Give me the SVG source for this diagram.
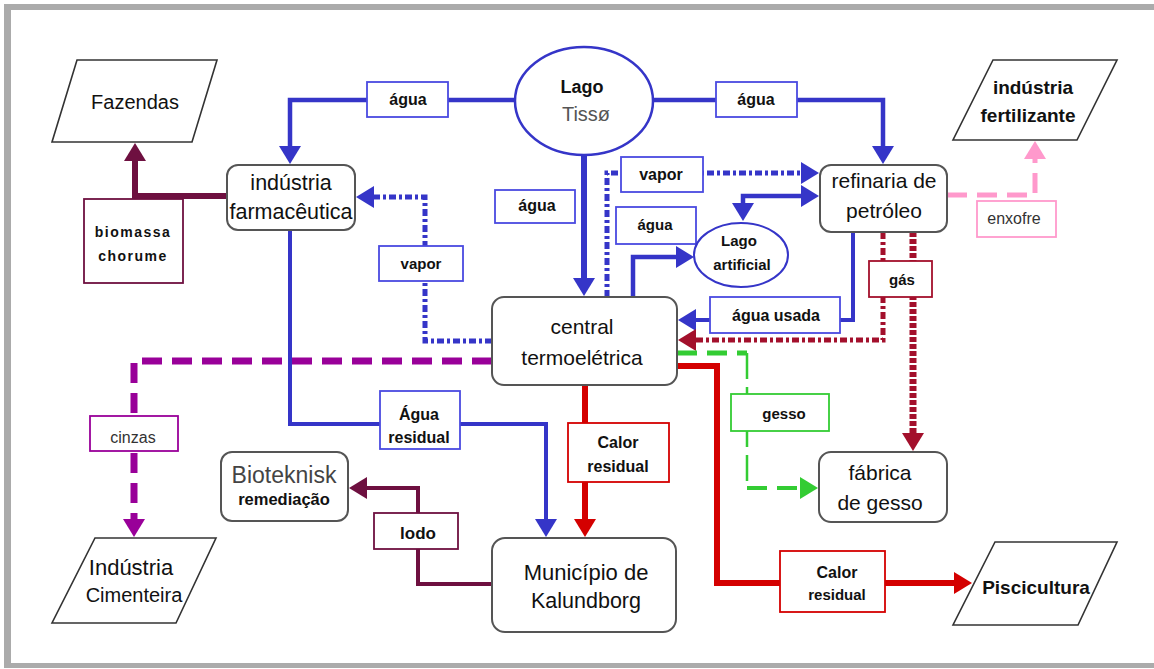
<svg xmlns="http://www.w3.org/2000/svg" width="1154" height="669" viewBox="0 0 1154 669">
<style>
text{font-family:"Liberation Sans",Arial,sans-serif;fill:#111;text-anchor:middle}
.node{fill:#fff;stroke:#555;stroke-width:2}
.para{fill:#fff;stroke:#333;stroke-width:1.6}
.lbl{fill:#fff;stroke-width:1.8}
.b{font-weight:bold}
.ln{fill:none;stroke-linejoin:miter}
.blue{stroke:#3535c8}
.lb{stroke:#4a4ae0}
.mar{stroke:#6e1040}
.dred{stroke:#a3102c}
.red{stroke:#d40000}
.grn{stroke:#33cc33}
.pnk{stroke:#ff99cc}
.pur{stroke:#990099}
.dot{stroke-dasharray:7 3 3 3}
.dash{stroke-dasharray:20 10}
</style>
<defs>
<marker id="aBlue" viewBox="0 0 18 22" refX="1" refY="11" markerWidth="18" markerHeight="22" markerUnits="userSpaceOnUse" orient="auto-start-reverse"><path d="M0,0 L18,11 L0,22 Z" fill="#3535c8"/></marker>
<marker id="aMar" viewBox="0 0 18 22" refX="1" refY="11" markerWidth="18" markerHeight="22" markerUnits="userSpaceOnUse" orient="auto"><path d="M0,0 L18,11 L0,22 Z" fill="#6e1040"/></marker>
<marker id="aDred" viewBox="0 0 18 22" refX="1" refY="11" markerWidth="18" markerHeight="22" markerUnits="userSpaceOnUse" orient="auto"><path d="M0,0 L18,11 L0,22 Z" fill="#a3102c"/></marker>
<marker id="aRed" viewBox="0 0 18 22" refX="1" refY="11" markerWidth="18" markerHeight="22" markerUnits="userSpaceOnUse" orient="auto"><path d="M0,0 L18,11 L0,22 Z" fill="#d40000"/></marker>
<marker id="aGrn" viewBox="0 0 18 22" refX="1" refY="11" markerWidth="18" markerHeight="22" markerUnits="userSpaceOnUse" orient="auto"><path d="M0,0 L18,11 L0,22 Z" fill="#33cc33"/></marker>
<marker id="aPnk" viewBox="0 0 18 22" refX="1" refY="11" markerWidth="18" markerHeight="22" markerUnits="userSpaceOnUse" orient="auto"><path d="M0,0 L18,11 L0,22 Z" fill="#ff99cc"/></marker>
<marker id="aPur" viewBox="0 0 18 22" refX="1" refY="11" markerWidth="18" markerHeight="22" markerUnits="userSpaceOnUse" orient="auto"><path d="M0,0 L18,11 L0,22 Z" fill="#990099"/></marker>
</defs>
<rect width="1154" height="669" fill="#fff"/>
<g id="frame" fill="#ababab">
<rect x="4" y="4" width="1150" height="6"/>
<rect x="4" y="4" width="7" height="664"/>
<rect x="4" y="663" width="1150" height="5"/>
</g>
<g id="connectors">
<path class="ln blue" stroke-width="4.5" d="M515,100 H290 V147" marker-end="url(#aBlue)"/>
<path class="ln blue" stroke-width="4.5" d="M653,100 H883 V147" marker-end="url(#aBlue)"/>
<path class="ln blue" stroke-width="6" d="M584,155 V279" marker-end="url(#aBlue)"/>
<path class="ln blue" stroke-width="4.5" d="M633,297 V257 H677" marker-end="url(#aBlue)"/>
<path class="ln blue" stroke-width="4.5" d="M743,204 V196 H802" marker-start="url(#aBlue)" marker-end="url(#aBlue)"/>
<path class="ln blue" stroke-width="4" d="M853,232 V320 H695" marker-end="url(#aBlue)"/>
<path class="ln blue" stroke-width="4" d="M290,230 V424 H546 V520" marker-end="url(#aBlue)"/>
<path class="ln blue dot" stroke-width="5" d="M607,297 V173 H802" marker-end="url(#aBlue)"/>
<path class="ln blue dot" stroke-width="5" d="M492,341 H425 V197 H373" marker-end="url(#aBlue)"/>
<path class="ln mar" stroke-width="6" d="M227,196 H135 V160" marker-end="url(#aMar)"/>
<path class="ln mar" stroke-width="4" d="M492,584 H418 V488 H366" marker-end="url(#aMar)"/>
<path class="ln pnk dash" stroke-width="5" d="M947,195 H1035 V158" marker-end="url(#aPnk)"/>
<path class="ln dred dot" stroke-width="5" d="M883,232 V340 H695" marker-end="url(#aDred)"/>
<path class="ln dred" stroke-width="7" stroke-dasharray="5 2" d="M913,232 V434" marker-end="url(#aDred)"/>
<path class="ln grn dash" stroke-width="5" d="M677,353 H747"/>
<path class="ln grn" stroke-width="2.5" stroke-dasharray="26 8" d="M747,353 V488"/>
<path class="ln grn dash" stroke-width="4" d="M747,488 H801" marker-end="url(#aGrn)"/>
<path class="ln red" stroke-width="6" d="M585,385 V520" marker-end="url(#aRed)"/>
<path class="ln red" stroke-width="6" d="M677,366 H717 V583 H955" marker-end="url(#aRed)"/>
<path class="ln pur dash" stroke-width="7" d="M492,361 H134 V520" marker-end="url(#aPur)"/>
<g id="labels">
<rect class="lbl lb" x="367" y="82" width="81" height="35"/><text class="b" x="408" y="105" font-size="16">água</text>
<rect class="lbl lb" x="716" y="82" width="81" height="35"/><text class="b" x="756" y="105" font-size="16">água</text>
<rect class="lbl lb" x="495" y="190" width="80" height="33"/><text class="b" x="537" y="211" font-size="16">água</text>
<rect class="lbl lb" x="621" y="157" width="82" height="35"/><text class="b" x="661" y="180" font-size="16">vapor</text>
<rect class="lbl lb" x="616" y="207" width="80" height="37"/><text class="b" x="655" y="230" font-size="15">água</text>
<rect class="lbl lb" x="379" y="246" width="84" height="35"/><text class="b" x="421" y="269" font-size="15">vapor</text>
<rect class="lbl lb" x="710" y="297" width="130" height="36"/><text class="b" x="776" y="321" font-size="16">água usada</text>
<rect class="lbl lb" x="380" y="391" width="80" height="58"/><text class="b" x="419" y="420" font-size="16">Água</text><text class="b" x="419" y="443" font-size="16">residual</text>
<rect class="lbl dred" x="869" y="261" width="63" height="36"/><text class="b" x="902" y="285" font-size="15">gás</text>
<rect class="lbl pnk" x="977" y="201" width="79" height="36"/><text x="1014" y="224" font-size="16" style="fill:#333">enxofre</text>
<rect class="lbl grn" x="731" y="394" width="98" height="37"/><text class="b" x="784" y="419" font-size="15">gesso</text>
<rect class="lbl red" x="568" y="423" width="101" height="59"/><text class="b" x="618" y="448" font-size="16">Calor</text><text class="b" x="618" y="472" font-size="16">residual</text>
<rect class="lbl red" x="780" y="551" width="105" height="61"/><text class="b" x="837" y="578" font-size="16">Calor</text><text class="b" x="837" y="600" font-size="15">residual</text>
<rect class="lbl mar" x="374" y="513" width="84" height="36"/><text class="b" x="418" y="539" font-size="17">lodo</text>
<rect class="lbl pur" x="90" y="416" width="88" height="35"/><text x="133" y="443" font-size="16" style="fill:#333">cinzas</text>
<rect class="lbl mar" x="84" y="199" width="99" height="84"/><text class="b" x="133" y="237" font-size="14" letter-spacing="1.5">biomassa</text><text class="b" x="133" y="261" font-size="14" letter-spacing="1.5">chorume</text>
</g>
</g>
<g id="fazendas"><polygon class="para" points="77,60 217,60 192,142 52,142"/><text x="135" y="109" font-size="20">Fazendas</text></g>
<g id="industria-farmaceutica"><rect class="node" x="227" y="165" width="128" height="65" rx="11"/><text x="291" y="190" font-size="21.5">indústria</text><text x="291" y="219" font-size="21.5">farmacêutica</text></g>
<g id="lago-tisso"><ellipse cx="584" cy="101" rx="69" ry="54" fill="#fff" stroke="#3535c8" stroke-width="2.5"/><text class="b" x="582" y="93" font-size="18">Lago</text><text x="586" y="121" font-size="20" style="fill:#555">Tissø</text></g>
<g id="refinaria"><rect class="node" x="820" y="165" width="127" height="67" rx="11"/><text x="884" y="188" font-size="21">refinaria de</text><text x="884" y="218" font-size="21">petróleo</text></g>
<g id="industria-fertilizante"><polygon class="para" points="993,60 1117,60 1077,140 953,140"/><text class="b" x="1033" y="94" font-size="19">indústria</text><text class="b" x="1028" y="122" font-size="19">fertilizante</text></g>
<g id="lago-artificial"><ellipse cx="741" cy="255" rx="47" ry="32" fill="#fff" stroke="#3535c8" stroke-width="2"/><text class="b" x="739" y="246" font-size="15">Lago</text><text class="b" x="742" y="270" font-size="15">artificial</text></g>
<g id="central-termoeletrica"><rect class="node" x="492" y="297" width="185" height="88" rx="12"/><text x="582" y="334" font-size="21">central</text><text x="582" y="365" font-size="21">termoelétrica</text></g>
<g id="fabrica-de-gesso"><rect class="node" x="819" y="452" width="128" height="70" rx="12"/><text x="880" y="480" font-size="21">fábrica</text><text x="880" y="510" font-size="21">de gesso</text></g>
<g id="piscicultura"><polygon class="para" points="995,542 1117,542 1078,625 953,625"/><text class="b" x="1036" y="594" font-size="19">Piscicultura</text></g>
<g id="municipio"><rect class="node" x="492" y="538" width="184" height="94" rx="13"/><text x="586" y="580" font-size="22">Município de</text><text x="586" y="608" font-size="21.5">Kalundborg</text></g>
<g id="bioteknisk"><rect class="node" x="221" y="452" width="127" height="69" rx="11"/><text x="284" y="483" font-size="23" style="fill:#444">Bioteknisk</text><text class="b" x="284" y="505" font-size="16.5">remediação</text></g>
<g id="industria-cimenteira"><polygon class="para" points="95,538 216,538 176,623 52,623"/><text x="131" y="575" font-size="22">Indústria</text><text x="134" y="602" font-size="20">Cimenteira</text></g>
</svg>
